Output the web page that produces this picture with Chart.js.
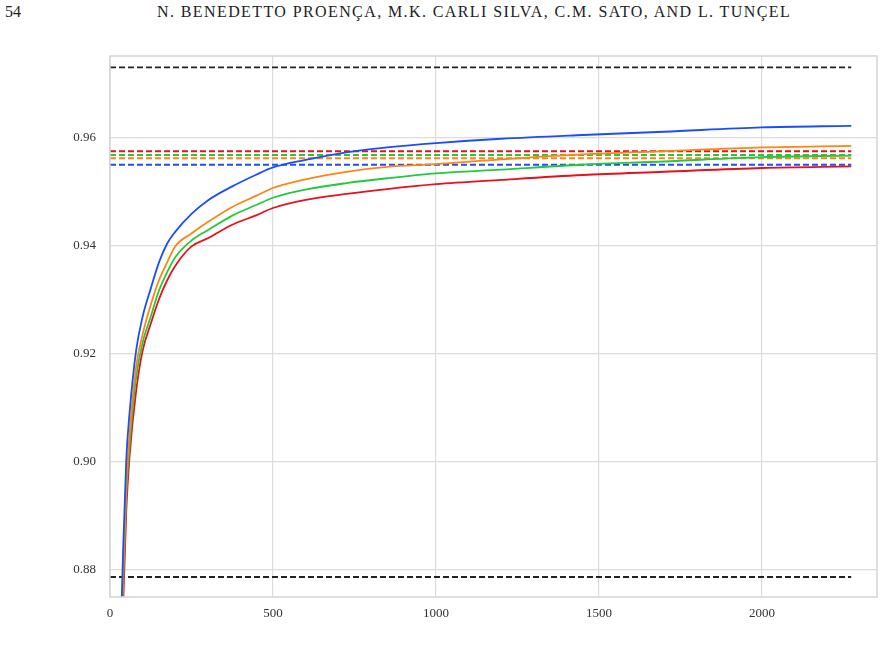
<!DOCTYPE html>
<html>
<head>
<meta charset="utf-8">
<script src="https://cdn.jsdelivr.net/npm/chart.js@4"></script>
<style>
  html, body { margin: 0; padding: 0; background: #fff; }
  #wrap { position: relative; width: 885px; height: 656px; overflow: hidden; }
  #page { position: absolute; left: 5px; top: 3px; font-family: "Liberation Serif", serif; font-size: 16px; color: #222; }
  #head { position: absolute; left: 157px; top: 3px; font-family: "Liberation Serif", serif; font-size: 16px; color: #222; letter-spacing: 1.4px; white-space: nowrap; }
  canvas { position: absolute; left: 0; top: 0; }
</style>
</head>
<body>
<div id="wrap">
  <div id="page">54</div>
  <div id="head">N. BENEDETTO PROENÇA, M.K. CARLI SILVA, C.M. SATO, AND L. TUNÇEL</div>
  <canvas id="c" width="885" height="656"></canvas>
</div>
<script>
// ---- data ----
const xValues = [30, 40, 50, 60, 80, 100, 125, 150, 175, 200, 250, 300, 375, 450, 500, 600, 725, 850, 1000, 1200, 1450, 1700, 2000, 2274];
const blueValues   = [0.862, 0.883, 0.9005, 0.909, 0.9205, 0.9268, 0.932, 0.9368, 0.9403, 0.9425, 0.9458, 0.9483, 0.9509, 0.9531, 0.9544, 0.9558, 0.9572, 0.9581, 0.9589, 0.9597, 0.9604, 0.9610, 0.9618, 0.9621];
const orangeValues = [0.858, 0.879, 0.896, 0.905, 0.9175, 0.9235, 0.929, 0.9335, 0.9368, 0.9398, 0.9422, 0.9443, 0.9471, 0.9492, 0.9506, 0.9522, 0.9536, 0.9545, 0.9550, 0.9559, 0.9568, 0.9574, 0.9581, 0.9584];
const greenValues  = [0.855, 0.877, 0.894, 0.903, 0.9155, 0.922, 0.9268, 0.9316, 0.935, 0.9378, 0.9409, 0.9428, 0.9455, 0.9475, 0.9488, 0.9503, 0.9515, 0.9524, 0.9533, 0.9540, 0.9549, 0.9555, 0.9563, 0.9566];
const redValues    = [0.850, 0.873, 0.891, 0.901, 0.913, 0.9205, 0.9255, 0.930, 0.9335, 0.9362, 0.9398, 0.9413, 0.9438, 0.9456, 0.9469, 0.9484, 0.9495, 0.9504, 0.9513, 0.9521, 0.953, 0.9536, 0.9543, 0.9546];
const refX = [0, 2274];
const blackRefValues = [0.9729, 0.8787];
const blueRef = 0.9549, orangeRef = 0.9561, greenRef = 0.9567, redRef = 0.9574;
const xTicks = [0, 500, 1000, 1500, 2000];
const yTicks = [0.88, 0.90, 0.92, 0.94, 0.96];

const BLUE = '#1a4dff', ORANGE = '#ff8411', GREEN = '#22c93c', RED = '#e8101a', BLACK = '#222222';

function curve(vals, color) {
  return { type: 'line', data: xValues.map((x, i) => ({ x: x, y: vals[i] })), borderColor: color,
           borderWidth: 1.8, pointRadius: 0, cubicInterpolationMode: 'monotone', fill: false };
}
function ref(v, color) {
  return { type: 'line', data: refX.map(x => ({ x: x, y: v })), borderColor: color,
           borderWidth: 1.9, borderDash: [6, 3], pointRadius: 0, fill: false };
}

const datasets = [
  curve(blueValues, BLUE), curve(orangeValues, ORANGE), curve(greenValues, GREEN), curve(redValues, RED),
  ...blackRefValues.map(v => ref(v, BLACK)),
  ref(blueRef, BLUE), ref(orangeRef, ORANGE), ref(greenRef, GREEN), ref(redRef, RED)
];

const frame = {
  id: 'frame',
  afterDraw(chart) {
    const a = chart.chartArea, ctx = chart.ctx;
    ctx.save();
    ctx.strokeStyle = '#d4d4d4';
    ctx.lineWidth = 1.5;
    ctx.strokeRect(a.left, a.top, a.right - a.left, a.bottom - a.top);
    ctx.restore();
  }
};

new Chart(document.getElementById('c'), {
  type: 'line',
  data: { datasets },
  plugins: [frame],
  options: {
    responsive: false,
    animation: false,
    layout: { padding: { top: 56, right: 8, left: 0, bottom: 0 } },
    plugins: { legend: { display: false }, tooltip: { enabled: false } },
    scales: {
      x: {
        type: 'linear', min: 0, max: 2353,
        afterBuildTicks: s => { s.ticks = xTicks.map(v => ({ value: v })); },
        afterFit: s => { s.height = 59; },
        grid: { color: '#dcdcdc', lineWidth: 1.2, drawTicks: false },
        border: { display: false },
        ticks: { padding: 9, color: '#333', font: { family: 'Liberation Serif', size: 13 }, callback: v => String(v), maxRotation: 0 }
      },
      y: {
        type: 'linear', min: 0.875, max: 0.975,
        afterBuildTicks: s => { s.ticks = yTicks.map(v => ({ value: v })); },
        afterFit: s => { s.width = 110; },
        grid: { color: '#dcdcdc', lineWidth: 1.2, drawTicks: false },
        border: { display: false },
        ticks: { padding: 14, color: '#333', font: { family: 'Liberation Serif', size: 13 }, callback: v => v.toFixed(2) }
      }
    }
  }
});
</script>
</body>
</html>
